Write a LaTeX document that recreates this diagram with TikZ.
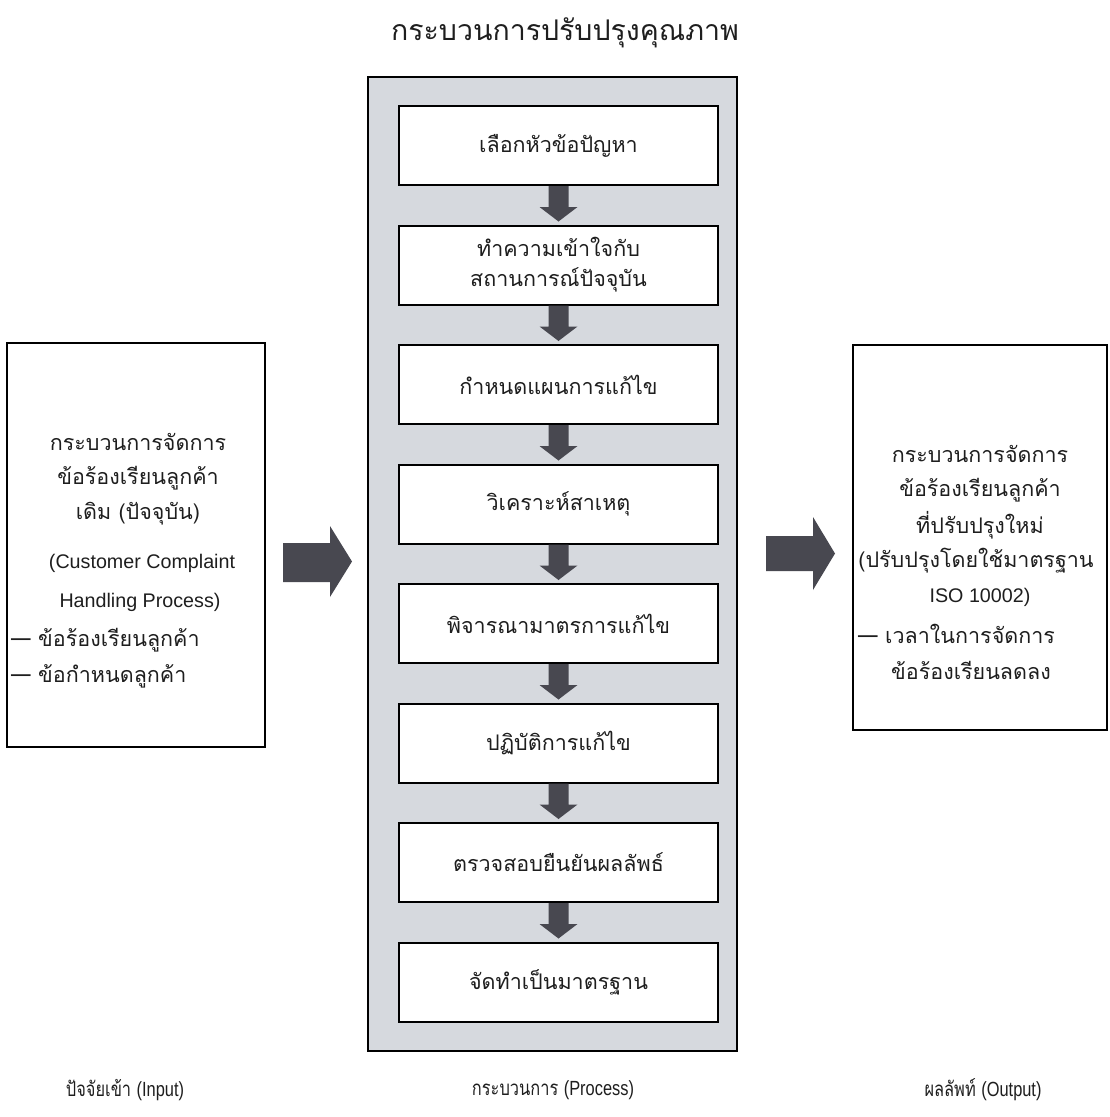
\documentclass[tikz,border=0pt]{standalone}
\usepackage{fontspec}
\newfontfamily\thai[Script=Thai]{Loma}
\newfontfamily\lat{Liberation Sans}
\usetikzlibrary{calc}
\definecolor{panel}{RGB}{214,217,222}
\definecolor{arr}{RGB}{72,72,80}
\definecolor{ink}{RGB}{30,30,30}
\tikzset{
  stepbox/.style={draw=black, line width=2pt, fill=white, minimum width=319pt, minimum height=79pt, inner sep=0pt, align=center, text=ink, font=\thai\fontsize{21.5}{30}\selectfont},
  sidebox/.style={draw=black, line width=2pt, inner sep=0pt},
  sidetxt/.style={inner sep=0pt, text=ink, font=\thai\fontsize{21.5}{24}\selectfont},
  lattxt/.style={inner sep=0pt, text=ink, font=\lat\fontsize{19.7}{24}\selectfont},
  bottxt/.style={inner sep=0pt, text=ink, xscale=0.8, transform shape, font=\thai\fontsize{20.5}{22}\selectfont},
  arrfill/.style={fill=arr}
}
\newcommand{\stepdown}[2]{%
  \fill[arrfill] ($(#1.south)+(-10,0)$) -- ($(#1.south)+(10,0)$) -- ($(#1.south)+(10,21)$) -- ($(#1.south)+(19,21)$) -- ($(#2.north)+(0,-3)$) -- ($(#1.south)+(-19,21)$) -- ($(#1.south)+(-10,21)$) -- cycle;}
\begin{document}
\begin{tikzpicture}[x=1pt,y=-1pt]
\useasboundingbox (0,0) rectangle (1109,1117);
% title
\node[inner sep=0pt, text=ink, font=\thai\fontsize{28.5}{32}\selectfont] (title) at (565,33) {กระบวนการปรับปรุงคุณภาพ};
% process panel
\node[draw=black, line width=2.5pt, fill=panel, minimum width=369pt, minimum height=974pt, inner sep=0pt] (panel) at (552.5,564) {};
% steps
\node[stepbox] (s1) at (558.5,145.5) {เลือกหัวข้อปัญหา};
\node[stepbox] (s2) at (558.5,265) {ทำความเข้าใจกับ\\สถานการณ์ปัจจุบัน};
\node[stepbox] (s3) at (558.5,384.5) {กำหนดแผนการแก้ไข};
\node[stepbox] (s4) at (558.5,504) {วิเคราะห์สาเหตุ};
\node[stepbox] (s5) at (558.5,623.5) {พิจารณามาตรการแก้ไข};
\node[stepbox] (s6) at (558.5,743) {ปฏิบัติการแก้ไข};
\node[stepbox] (s7) at (558.5,862.5) {ตรวจสอบยืนยันผลลัพธ์};
\node[stepbox] (s8) at (558.5,982) {จัดทำเป็นมาตรฐาน};
\stepdown{s1}{s2}
\stepdown{s2}{s3}
\stepdown{s3}{s4}
\stepdown{s4}{s5}
\stepdown{s5}{s6}
\stepdown{s6}{s7}
\stepdown{s7}{s8}
% input box
\node[sidebox, minimum width=258pt, minimum height=404pt] (inbox) at (136,545) {};
\node[sidetxt] (in1) at (138,442) {กระบวนการจัดการ};
\node[sidetxt] (in2) at (138,478) {ข้อร้องเรียนลูกค้า};
\node[sidetxt] (in3) at (138,514) {เดิม (ปัจจุบัน)};
\node[lattxt] (in4) at (142,563) {(Customer Complaint};
\node[lattxt] (in5) at (140,602) {Handling Process)};
\node[sidetxt, anchor=west] (in6) at (11,640) {— ข้อร้องเรียนลูกค้า};
\node[sidetxt, anchor=west] (in7) at (11,676) {— ข้อกำหนดลูกค้า};
% output box
\node[sidebox, minimum width=254pt, minimum height=385pt] (outbox) at (980,537.5) {};
\node[sidetxt] (o1) at (980,454) {กระบวนการจัดการ};
\node[sidetxt] (o2) at (980,490) {ข้อร้องเรียนลูกค้า};
\node[sidetxt] (o3) at (980,525) {ที่ปรับปรุงใหม่};
\node[sidetxt] (o4) at (976,561) {(ปรับปรุงโดยใช้มาตรฐาน};
\node[lattxt] (o5) at (980,597) {ISO 10002)};
\node[sidetxt, anchor=west] (o6) at (858,634) {— เวลาในการจัดการ};
\node[sidetxt, anchor=west] (o7) at (891,670) {ข้อร้องเรียนลดลง};
% big arrows
\fill[arrfill] (283,543) -- (330,543) -- (330,526) -- (352,561.5) -- (330,597) -- (330,582) -- (283,582) -- cycle;
\fill[arrfill] (766,536) -- (813,536) -- (813,517) -- (835,553.5) -- (813,590) -- (813,571) -- (766,571) -- cycle;
% bottom labels
\node[bottxt] (l1) at (125,1090) {ปัจจัยเข้า {\lat (Input)}};
\node[bottxt] (l2) at (553,1090) {กระบวนการ {\lat (Process)}};
\node[bottxt] (l3) at (983,1090) {ผลลัพท์ {\lat (Output)}};
\end{tikzpicture}
\end{document}
